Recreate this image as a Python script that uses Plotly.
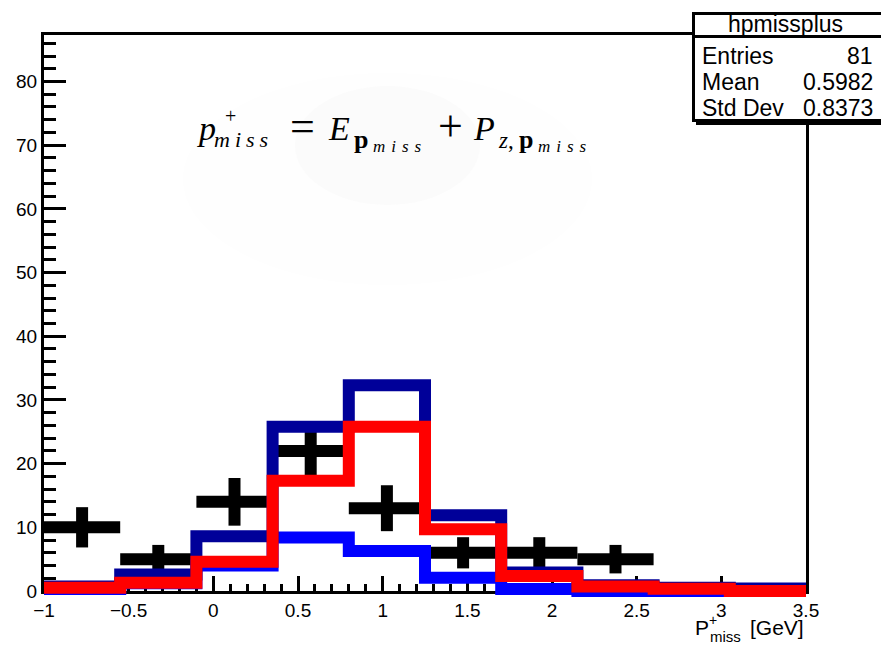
import math
import plotly.graph_objects as go

# ---------------- data ----------------
bin_edges = [-1.0, -0.55, -0.1, 0.35, 0.8, 1.25, 1.7, 2.15, 2.6, 3.05, 3.5]
data_counts = [10, 5, 14, 22, 13, 6, 6, 5, 0, 0]
hist_navy = [0.7, 2.6, 8.6, 25.8, 32.3, 11.9, 2.9, 0.9, 0.5, 0.4]
hist_red = [0.5, 1.3, 4.6, 17.3, 25.8, 9.7, 2.35, 0.7, 0.35, 0.0]
hist_blue = [0.3, 1.2, 4.0, 8.4, 6.3, 2.1, 0.3, 0.0, 0.0, 0.0]

x_tick_vals = [-1, -0.5, 0, 0.5, 1, 1.5, 2, 2.5, 3, 3.5]
x_tick_text = ["\u22121", "\u22120.5", "0", "0.5", "1", "1.5", "2", "2.5", "3", "3.5"]
y_tick_vals = [0, 10, 20, 30, 40, 50, 60, 70, 80]

stats_title = "hpmissplus"
stats_names = ["Entries", "Mean", "Std Dev"]
stats_values = ["81", "0.5982", "0.8373"]

# ---------------- geometry ----------------
W, H = 881, 646
ml, mr, mt, mb = 44, 75, 35, 35
plot_w = W - ml - mr
paper_h = H - mt - mb
axis_bottom_px = 591
ymax = 87.3
ppu = (axis_bottom_px - mt) / ymax
main_dom0 = (H - mb - axis_bottom_px) / paper_h
y2min = -(H - mb - axis_bottom_px) / ppu


def px(xp):
    return (xp - ml) / plot_w


def py(yp):
    return (H - mb - yp) / paper_h


centers = [(bin_edges[i] + bin_edges[i + 1]) / 2 for i in range(len(data_counts))]
halfw = [(bin_edges[i + 1] - bin_edges[i]) / 2 for i in range(len(data_counts))]

fig = go.Figure()

# data points with error bars (drawn first, under histograms)
idx = [i for i, c in enumerate(data_counts) if c > 0]
fig.add_trace(go.Scatter(
    x=[centers[i] for i in idx], y=[data_counts[i] for i in idx],
    mode="markers", marker=dict(size=2, color="black"),
    error_x=dict(type="data", array=[halfw[i] for i in idx], thickness=12, width=0, color="black"),
    error_y=dict(type="data", array=[math.sqrt(data_counts[i]) for i in idx], thickness=12, width=0, color="black"),
    xaxis="x", yaxis="y", showlegend=False, hoverinfo="skip",
))


def step_trace(vals, color):
    return go.Scatter(
        x=bin_edges, y=list(vals) + [vals[-1]], mode="lines",
        line=dict(color=color, width=12, shape="hv"),
        xaxis="x2", yaxis="y2", showlegend=False, hoverinfo="skip",
    )


fig.add_trace(step_trace(hist_blue, "#0000ff"))
fig.add_trace(step_trace(hist_navy, "#000099"))
fig.add_trace(step_trace(hist_red, "#ff0000"))

tickfont = dict(family="Liberation Sans, Arial, sans-serif", size=19, color="black")

fig.update_layout(
    width=W, height=H,
    margin=dict(l=ml, r=mr, t=mt, b=mb, pad=0),
    paper_bgcolor="white", plot_bgcolor="rgba(0,0,0,0)",
    showlegend=False,
    xaxis=dict(domain=[0, 1], range=[-1, 3.5], anchor="y",
               showline=True, linecolor="black", linewidth=3, mirror=True,
               showgrid=False, zeroline=False,
               ticks="inside", ticklen=15, tickwidth=3, tickcolor="black",
               tickvals=x_tick_vals, ticktext=x_tick_text, tickfont=tickfont,
               minor=dict(ticks="inside", ticklen=7, tickwidth=3, tickcolor="black",
                          tick0=-1, dtick=0.1, showgrid=False),
               layer="below traces"),
    yaxis=dict(domain=[main_dom0, 1], range=[0, ymax], anchor="x",
               showline=True, linecolor="black", linewidth=3, mirror=True,
               showgrid=False, zeroline=False,
               ticks="inside", ticklen=22, tickwidth=3, tickcolor="black",
               tickvals=y_tick_vals, tickfont=tickfont,
               minor=dict(ticks="inside", ticklen=12, tickwidth=3, tickcolor="black",
                          tick0=0, dtick=2, showgrid=False),
               layer="below traces"),
    xaxis2=dict(domain=[0, 1], range=[-1, 3.5], anchor="y2", visible=False),
    yaxis2=dict(domain=[0, 1], range=[y2min, ymax], anchor="x2", visible=False),
)

# faint background of the pasted formula image
fig.add_shape(type="circle", xref="paper", yref="paper",
              x0=px(183), x1=px(592), y0=py(73), y1=py(285),
              fillcolor="#fefefe", line=dict(width=0), layer="below")
fig.add_shape(type="circle", xref="paper", yref="paper",
              x0=px(295), x1=px(480), y0=py(86), y1=py(205),
              fillcolor="#fbfbfb", line=dict(width=0), layer="below")

# stats box
fig.add_shape(type="rect", xref="paper", yref="paper",
              x0=px(696), x1=px(890), y0=py(16), y1=py(125),
              fillcolor="black", line=dict(width=0), layer="above")
fig.add_shape(type="rect", xref="paper", yref="paper",
              x0=px(693.5), x1=px(886), y0=py(13.5), y1=py(120.5),
              fillcolor="white", line=dict(color="black", width=3), layer="above")
fig.add_shape(type="line", xref="paper", yref="paper",
              x0=px(693.5), x1=px(886), y0=py(36.5), y1=py(36.5),
              line=dict(color="black", width=3), layer="above")

sans = "Liberation Sans, Arial, sans-serif"
serif = "Liberation Serif, Times New Roman, serif"


def ann(text, xp, baseline, size, family, xanchor="left"):
    asc = 0.34 if "Serif" in family.split(",")[0] else 0.346
    fig.add_annotation(text=text, xref="paper", yref="paper",
                       x=px(xp), y=py(baseline - asc * size),
                       xanchor=xanchor, yanchor="middle", showarrow=False,
                       borderpad=0, borderwidth=0,
                       font=dict(family=family, size=size, color="black"))


ann(stats_title, 785, 32, 23, sans, xanchor="center")
for i, (n, v) in enumerate(zip(stats_names, stats_values)):
    base = [64, 90, 116][i]
    ann(n, 702, base, 23, sans)
    ann(v, 873, base, 23, sans, xanchor="right")

# x axis title  P^+_miss [GeV]
ann("P", 695, 635, 21, sans)
ann("+", 709, 625, 14, sans)
ann("miss", 710, 642, 15, sans)
ann("[GeV]", 750, 635, 21, sans)


def spaced(t, s):
    return '<span style="letter-spacing:%dpx">%s</span>' % (s, t)


# formula  p^+_miss = E_{p_miss} + P_{z,p_miss}
ann("<i>p</i>", 197, 140, 34, serif)
ann("+", 225, 123, 20, serif)
ann("<i>" + spaced("miss", 5) + "</i>", 214, 147, 22, serif)
ann("=", 290, 141, 44, serif)
ann("<i>E</i>", 328, 140, 34, serif)
ann("<b>p</b>", 354, 148, 26, serif)
ann("<i>" + spaced("miss", 6) + "</i>", 373, 152, 17, serif)
ann("+", 438, 141, 44, serif)
ann("<i>P</i>", 473, 140, 34, serif)
ann("<i>z</i>,", 498, 148, 23, serif)
ann("<b>p</b>", 519, 148, 26, serif)
ann("<i>" + spaced("miss", 6) + "</i>", 538, 152, 17, serif)

fig.write_html("out.html")
